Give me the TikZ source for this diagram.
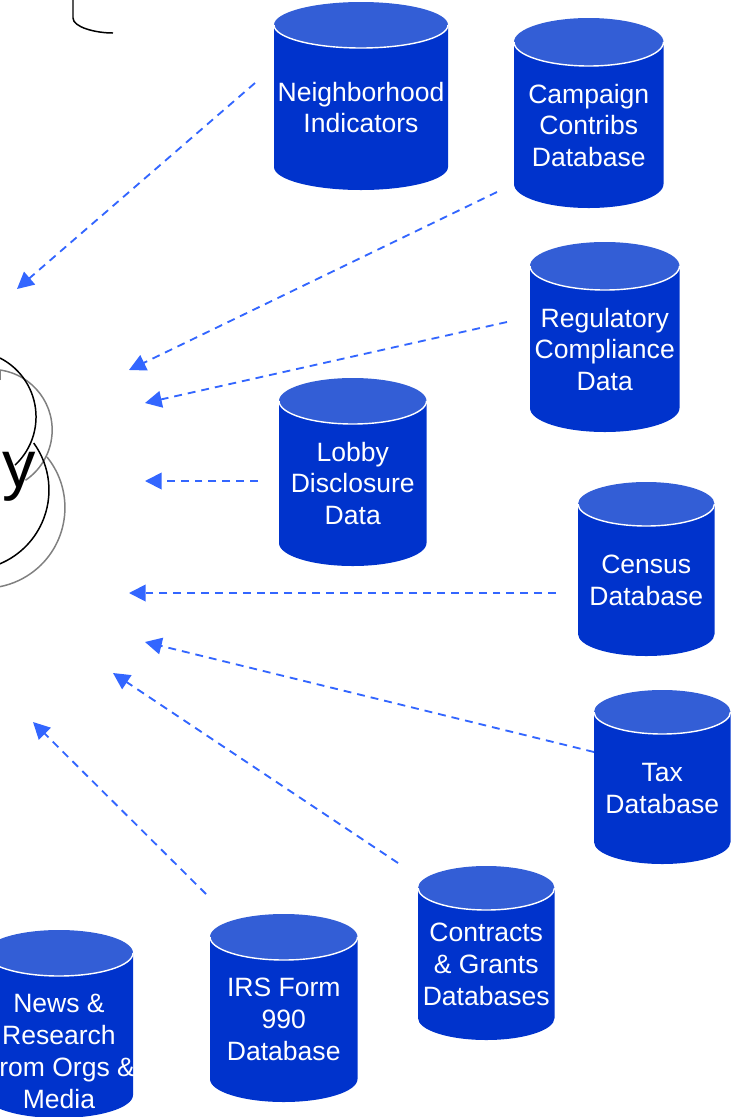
\documentclass[tikz,border=0pt]{standalone}
\usepackage{fontspec}
\setmainfont{Liberation Sans}
\usepackage{xcolor}
\usetikzlibrary{arrows.meta}
\definecolor{dbblue}{RGB}{0,51,204}
\definecolor{dblight}{RGB}{51,94,214}
\definecolor{feedblue}{RGB}{51,102,255}
\tikzset{
  dbbody/.style={fill=dbblue},
  dbtop/.style={fill=dblight},
  dbrim/.style={draw=white,line width=0.8pt},
  dbtext/.style={text=white,align=center,inner sep=0pt,font=\fontsize{15.1}{18.2}\selectfont},
  feed/.style={draw=feedblue,line width=1.05pt,dash pattern=on 4.5pt off 3.4pt,-{Triangle[length=9.5pt,width=9.5pt]}},
  cloudblack/.style={draw=black,line width=0.85pt},
  cloudgrey/.style={draw=black!50,line width=0.85pt}
}
% name, centre x, top, bottom, x radius, y radius, text y, text
\newcommand{\dbcyl}[8]{%
  \fill[dbbody] (#2-#5,#3+#6) -- (#2-#5,#4-#6) arc[start angle=180,end angle=0,x radius=#5,y radius=#6] -- (#2+#5,#3+#6) -- cycle;
  \fill[dbtop] (#2,#3+#6) ellipse [x radius=#5,y radius=#6];
  \draw[dbrim] (#2-#5,#3+#6) arc[start angle=180,end angle=0,x radius=#5,y radius=#6];
  \node[dbtext] (#1) at (#2,#7) {#8};
}
\begin{document}
\begin{tikzpicture}[x=0.02cm,y=-0.02cm]
    \useasboundingbox (0,0) rectangle (731,1117);
    \clip (0,0) rectangle (731,1117);
    % databases
    \dbcyl{neighborhood}{361}{2}{190}{87}{23}{107.5}{Neighborhood\\Indicators}
    \dbcyl{campaign}{588.75}{18}{208}{74.75}{24}{125.5}{Campaign\\Contribs\\Database}
    \dbcyl{regulatory}{604.75}{242}{432}{74.75}{24}{349.5}{Regulatory\\Compliance\\Data}
    \dbcyl{lobby}{352.75}{378}{566}{73.75}{23}{483.5}{Lobby\\Disclosure\\Data}
    \dbcyl{census}{646.25}{482}{656}{68.25}{22}{580.5}{Census\\Database}
    \dbcyl{tax}{662.25}{690}{864}{68.25}{22}{788.5}{Tax\\Database}
    \dbcyl{contracts}{486.25}{866}{1040}{68.25}{22}{964.5}{Contracts\\\& Grants\\Databases}
    \dbcyl{irs}{283.75}{914}{1102}{73.75}{23}{1019.5}{IRS Form\\990\\Database}
    \dbcyl{news}{59}{930}{1118}{74}{23}{1051.5}{News \&\\Research\\From Orgs \&\\Media}
    % arrow ends
    \coordinate (neighborhoodS) at (255,83);
    \coordinate (neighborhoodE) at (17,289);
    \coordinate (campaignS) at (497,192);
    \coordinate (campaignE) at (129,370);
    \coordinate (regulatoryS) at (507,322);
    \coordinate (regulatoryE) at (145,403);
    \coordinate (lobbyS) at (258,481);
    \coordinate (lobbyE) at (145,481);
    \coordinate (censusS) at (556,593);
    \coordinate (censusE) at (129,593);
    \coordinate (taxS) at (594,752);
    \coordinate (taxE) at (145,642);
    \coordinate (contractsS) at (398,863);
    \coordinate (contractsE) at (113,673);
    \coordinate (irsS) at (206,894);
    \coordinate (irsE) at (33,722);
    \foreach \src in {neighborhood,campaign,regulatory,lobby,census,tax,contracts,irs}
        \draw[feed] (\src S) -- (\src E);
    % cloud
    \draw[cloudgrey] (0.5,380) -- (0.5,370);
    \draw[cloudgrey] (0,370) arc[start angle=-82,end angle=56,radius=60.6];
    \draw[cloudgrey] (47,457) arc[start angle=-39,end angle=79,radius=80.5];
    \draw[cloudblack] (0,358) arc[start angle=-63,end angle=47,radius=66];
    \draw[cloudblack] (33.7,443) arc[start angle=-36,end angle=70,radius=80];
    \node[anchor=base west,inner sep=0pt,font=\fontsize{38}{38}\selectfont] (cloudtext) at (2,487) {y};
    % corner of the other box
    \draw[cloudblack] (73,0) -- (73,18) .. controls (73,27) and (95,33) .. (113,33);
\end{tikzpicture}
\end{document}
